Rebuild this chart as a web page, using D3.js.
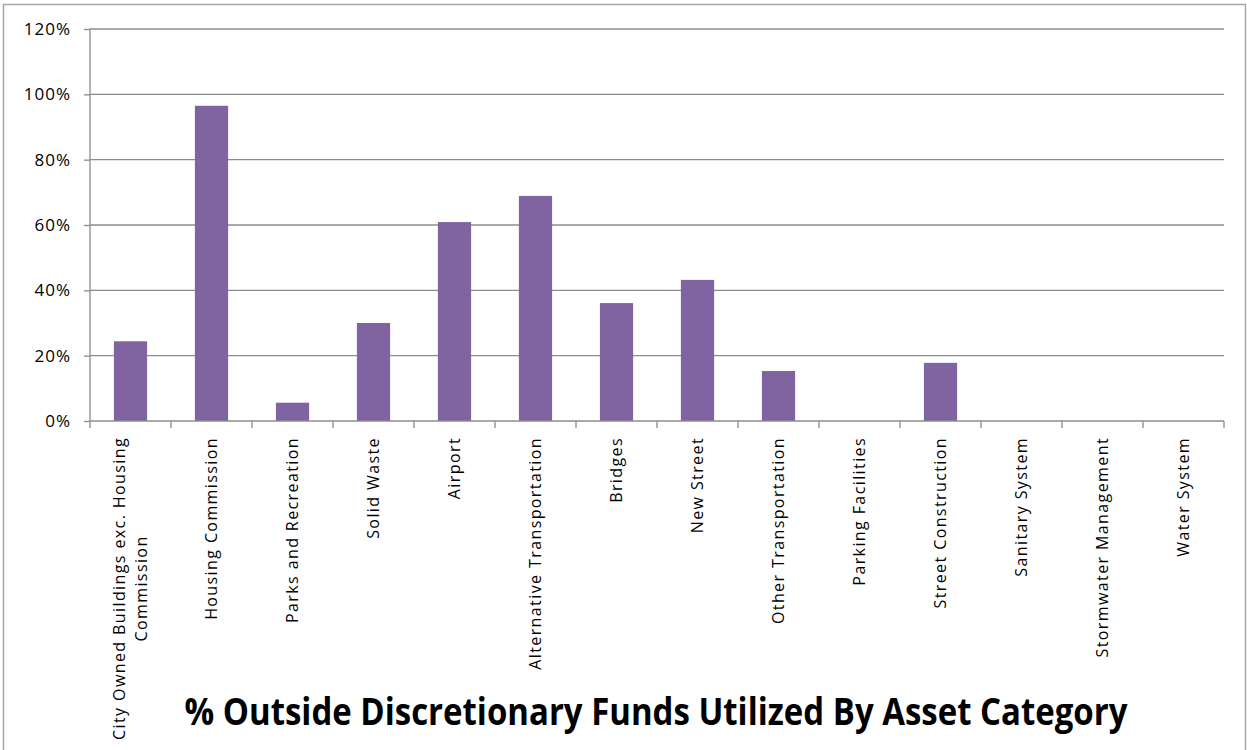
<!DOCTYPE html>
<html>
<head>
<meta charset="utf-8">
<script src="https://cdn.jsdelivr.net/npm/d3@7"></script>
<style>
  body { margin: 0; background: #fff; }
  text { font-family: "Open Sans", "DejaVu Sans", sans-serif; fill: #000; }
</style>
</head>
<body>
<script>
// Data
const categories = [
  "City Owned Buildings  exc. Housing|Commission",
  "Housing Commission",
  "Parks and Recreation",
  "Solid Waste",
  "Airport",
  "Alternative Transportation",
  "Bridges",
  "New Street",
  "Other Transportation",
  "Parking Facilities",
  "Street Construction",
  "Sanitary System",
  "Stormwater  Management",
  "Water System"
];
const values = [0.244, 0.965, 0.056, 0.30, 0.609, 0.689, 0.361, 0.432, 0.153, 0, 0.178, 0, 0, 0];
const yTicks = [0, 0.2, 0.4, 0.6, 0.8, 1.0, 1.2];
const title = "% Outside Discretionary Funds Utilized By Asset Category";

const W = 1247, H = 750;
let margin = {top: 29, left: 90, right: 23, bottom: 329};
let width = W - margin.left - margin.right;
let height = H - margin.top - margin.bottom;

const svg = d3.select("body").append("svg")
  .attr("width", W).attr("height", H);

// chart border
svg.append("rect")
  .attr("x", 3.5).attr("y", 4.5)
  .attr("width", 1242).attr("height", 760)
  .attr("fill", "none").attr("stroke", "#a6a6a6").attr("stroke-width", 1.5);

const g = svg.append("g").attr("transform", `translate(${margin.left}, ${margin.top})`);

const x = d3.scaleBand().domain(categories).range([0, width]).paddingInner(0.59).paddingOuter(0.295);
const xb = d3.scaleBand().domain(categories).range([0, width]);
const y = d3.scaleLinear().domain([0, 1.2]).range([height, 0]);

// gridlines
g.append("g")
  .selectAll("line").data(yTicks.filter(d => d > 0)).join("line")
  .attr("x1", 0).attr("x2", width)
  .attr("y1", d => y(d)).attr("y2", d => y(d))
  .attr("stroke", "#8c8c8c").attr("stroke-width", 1.3);

// bars
g.append("g")
  .selectAll("rect").data(values).join("rect")
  .attr("x", (d, i) => x(categories[i]))
  .attr("width", x.bandwidth())
  .attr("y", d => y(d))
  .attr("height", d => height - y(d))
  .attr("fill", "#8064a2");

// y axis
const yAxis = g.append("g")
  .call(d3.axisLeft(y).tickValues(yTicks).tickFormat(d3.format(".0%")).tickSize(6).tickPadding(13));
yAxis.select(".domain").attr("stroke", "#8c8c8c").attr("stroke-width", 1.3).attr("d", `M0,0V${height}`);
yAxis.selectAll(".tick line").attr("stroke", "#8c8c8c").attr("stroke-width", 1.3);
yAxis.selectAll("text").style("font-size", "17px").style("letter-spacing", "1px").attr("fill", "#000");

// x axis with boundary ticks
const xg = g.append("g").attr("transform", `translate(0, ${height})`);
xg.append("line").attr("x1", 0).attr("x2", width)
  .attr("stroke", "#8c8c8c").attr("stroke-width", 1.3);
xg.selectAll(".bt").data(d3.range(categories.length + 1)).join("line")
  .attr("class", "bt")
  .attr("x1", i => i * xb.step()).attr("x2", i => i * xb.step())
  .attr("y1", 0).attr("y2", 7)
  .attr("stroke", "#8c8c8c").attr("stroke-width", 1.3);

// category labels (rotated)
const lbl = xg.selectAll(".lbl").data(categories).join("text")
  .attr("class", "lbl")
  .attr("transform", d => `translate(${xb(d) + xb.bandwidth() / 2}, 16) rotate(-90)`)
  .attr("text-anchor", "end")
  .style("font-size", "16px")
  .style("letter-spacing", "1.4px");
lbl.each(function(d) {
  const lines = d.split("|");
  const t = d3.select(this);
  const spans = lines.map((ln, k) => t.append("tspan")
      .attr("x", 0)
      .attr("y", (k - (lines.length - 1) / 2) * 22 + 5.5)
      .text(ln));
  if (lines.length > 1) {
    const w0 = spans[0].node().getComputedTextLength();
    spans.slice(1).forEach(s => s.attr("x", -w0 / 2).attr("text-anchor", "middle"));
  }
});

// title
svg.append("text")
  .attr("x", 656).attr("y", 725)
  .attr("text-anchor", "middle")
  .attr("textLength", 943).attr("lengthAdjust", "spacingAndGlyphs")
  .style("font-size", "37px").style("font-weight", "bold")
  .text(title);
</script>
</body>
</html>
